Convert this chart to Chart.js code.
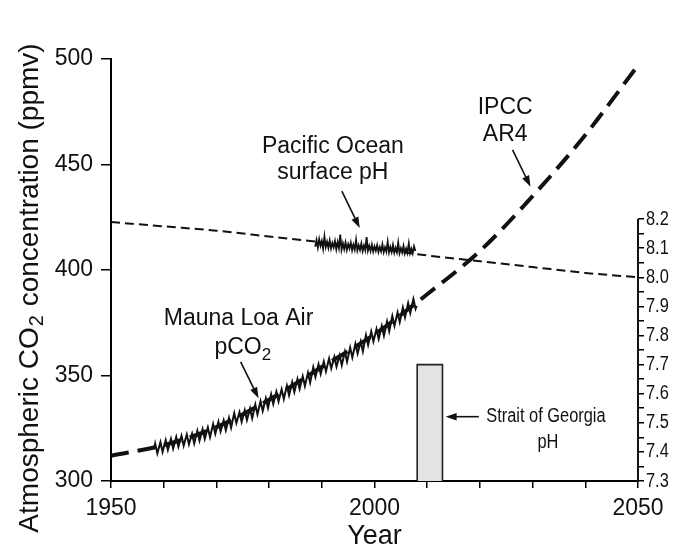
<!DOCTYPE html>
<html>
<head>
<meta charset="utf-8">
<script src="https://cdn.jsdelivr.net/npm/chart.js@4.4.1/dist/chart.umd.min.js"></script>
<style>
  html, body { margin: 0; padding: 0; background: #fff; }
  #chart { display: block; }
</style>
</head>
<body>
<canvas id="chart" width="676" height="553"></canvas>
<script>
'use strict';

// ---- values ----
const yearLabels = [1950, 2000, 2050];
const phLabels = [7.3, 7.4, 7.5, 7.6, 7.7, 7.8, 7.9, 8.0, 8.1, 8.2];

// IPCC AR4 projection (ppmv)
const ipccYears = [1950, 1960, 1970, 1980, 1990, 2000, 2010, 2020, 2030, 2040, 2050];
const ipccCO2 = [312, 317, 325.5, 338.5, 354, 369.5, 388.5, 409, 435, 464, 497];

// Mauna Loa air pCO2, spring peak / autumn trough each year
const mlYears = [
    1958.2, 1958.38, 1958.79, 1959.38, 1959.79, 1960.38, 1960.79, 1961.38, 1961.79,
    1962.38, 1962.79, 1963.38, 1963.79, 1964.38, 1964.79, 1965.38, 1965.79,
    1966.38, 1966.79, 1967.38, 1967.79, 1968.38, 1968.79, 1969.38, 1969.79,
    1970.38, 1970.79, 1971.38, 1971.79, 1972.38, 1972.79, 1973.38, 1973.79,
    1974.38, 1974.79, 1975.38, 1975.79, 1976.38, 1976.79, 1977.38, 1977.79,
    1978.38, 1978.79, 1979.38, 1979.79, 1980.38, 1980.79, 1981.38, 1981.79,
    1982.38, 1982.79, 1983.38, 1983.79, 1984.38, 1984.79, 1985.38, 1985.79,
    1986.38, 1986.79, 1987.38, 1987.79, 1988.38, 1988.79, 1989.38, 1989.79,
    1990.38, 1990.79, 1991.38, 1991.79, 1992.38, 1992.79, 1993.38, 1993.79,
    1994.38, 1994.79, 1995.38, 1995.79, 1996.38, 1996.79, 1997.38, 1997.79,
    1998.38, 1998.79, 1999.38, 1999.79, 2000.38, 2000.79, 2001.38, 2001.79,
    2002.38, 2002.79, 2003.38, 2003.79, 2004.38, 2004.79, 2005.38, 2005.79,
    2006.38, 2006.79, 2007.38, 2007.79, 2008.0
];
const mlCO2 = [
    315.5, 317.7, 313.1, 318.4, 313.8, 319.3, 314.7, 320.0, 315.4,
    320.9, 316.3, 321.4, 316.8, 322.0, 317.4, 322.4, 317.8,
    323.8, 319.2, 324.6, 320.0, 325.4, 320.8, 327.0, 322.4,
    328.1, 323.5, 328.7, 324.1, 329.9, 325.3, 332.1, 327.5,
    332.6, 328.0, 333.5, 328.9, 334.4, 329.8, 336.2, 331.6,
    337.8, 333.2, 339.2, 334.6, 341.1, 336.5, 342.3, 337.7,
    343.5, 338.9, 345.2, 340.6, 346.8, 342.2, 348.3, 343.7,
    349.6, 345.0, 351.3, 346.7, 353.9, 349.3, 355.3, 350.7,
    356.6, 352.0, 358.0, 353.4, 358.8, 354.2, 359.5, 354.9,
    361.2, 356.6, 363.2, 358.6, 365.0, 360.4, 366.1, 361.5,
    369.1, 364.5, 370.8, 366.2, 372.0, 367.4, 373.5, 368.9,
    375.6, 371.0, 378.2, 373.6, 379.9, 375.3, 382.2, 377.6,
    384.3, 379.7, 386.2, 381.6, 383.0
];

// long-term surface pH trend (dashed)
const trendYears = [1950, 1960, 1970, 1980, 1990, 2000, 2010, 2020, 2030, 2040, 2050];
const trendPH = [8.19, 8.175, 8.16, 8.14, 8.12, 8.10, 8.075, 8.055, 8.035, 8.015, 8.0];

// Pacific Ocean surface pH (station record)
const pacYears = [
    1988.75, 1989.0, 1989.25, 1989.5, 1989.75, 1990.0, 1990.25, 1990.5, 1990.75,
    1991.0, 1991.25, 1991.5, 1991.75, 1992.0, 1992.25, 1992.5, 1992.75,
    1993.0, 1993.25, 1993.5, 1993.75, 1994.0, 1994.25, 1994.5, 1994.75,
    1995.0, 1995.25, 1995.5, 1995.75, 1996.0, 1996.25, 1996.5, 1996.75,
    1997.0, 1997.25, 1997.5, 1997.75, 1998.0, 1998.25, 1998.5, 1998.75,
    1999.0, 1999.25, 1999.5, 1999.75, 2000.0, 2000.25, 2000.5, 2000.75,
    2001.0, 2001.25, 2001.5, 2001.75, 2002.0, 2002.25, 2002.5, 2002.75,
    2003.0, 2003.25, 2003.5, 2003.75, 2004.0, 2004.25, 2004.5, 2004.75,
    2005.0, 2005.25, 2005.5, 2005.75, 2006.0, 2006.25, 2006.5, 2006.75,
    2007.0, 2007.25, 2007.5, 2007.75
];
const pacPH = [
    8.105, 8.128, 8.102, 8.131, 8.108, 8.125, 8.098, 8.140, 8.104,
    8.122, 8.101, 8.126, 8.099, 8.118, 8.103, 8.124, 8.096,
    8.121, 8.100, 8.147, 8.095, 8.117, 8.097, 8.120, 8.094,
    8.114, 8.099, 8.119, 8.093, 8.112, 8.095, 8.128, 8.092,
    8.110, 8.094, 8.116, 8.090, 8.109, 8.093, 8.138, 8.091,
    8.108, 8.090, 8.112, 8.088, 8.106, 8.091, 8.110, 8.087,
    8.104, 8.089, 8.113, 8.086, 8.103, 8.088, 8.122, 8.085,
    8.104, 8.087, 8.111, 8.084, 8.101, 8.086, 8.119, 8.083,
    8.100, 8.085, 8.108, 8.082, 8.099, 8.084, 8.116, 8.083,
    8.098, 8.082, 8.106, 8.090
];

// Strait of Georgia pH range (bar)
const sogYears = [2008.1, 2012.9];
const sogPH = [7.3, 7.7];

// ---- look ----
const FONT = "'Liberation Sans', Arial, sans-serif";
const INK = '#111';
const NARROW = 0.82;        // horizontal squeeze for the condensed labels
const PH_AXIS_MAX = 8.75;   // keeps the pH axis on the lower part of the frame

function pairs(xs, ys) {
    return xs.map((x, i) => ({ x: x, y: ys[i] }));
}

const sogBox = [
    { x: sogYears[0], y: sogPH[0] },
    { x: sogYears[0], y: sogPH[1] },
    { x: sogYears[1], y: sogPH[1] },
    { x: sogYears[1], y: sogPH[0] }
];

// annotation text, placed in data units
const notes = [
    { axis: 'y', x: 1992.1, y: 458.4, text: 'Pacific Ocean' },
    { axis: 'y', x: 1992.1, y: 446.1, text: 'surface pH' },
    { axis: 'y', x: 1974.2, y: 377, text: 'Mauna Loa Air' },
    { axis: 'y', x: 1975.0, y: 363, text: 'pCO', sub: '2' },
    { axis: 'y', x: 2024.8, y: 477, text: 'IPCC' },
    { axis: 'y', x: 2024.8, y: 464, text: 'AR4' },
    { axis: 'yPH', x: 2021.2, y: 7.521, text: 'Strait of Georgia', align: 'left', narrow: true },
    { axis: 'yPH', x: 2032.9, y: 7.434, text: 'pH', narrow: true }
];
const arrows = [
    { axis: 'y', from: [1993.8, 437.4], to: [1997.2, 419.9] },
    { axis: 'y', from: [1974.6, 356.5], to: [1978.0, 339.2] },
    { axis: 'y', from: [2026.2, 456.9], to: [2029.6, 439.5] },
    { axis: 'yPH', from: [2019.8, 7.521], to: [2013.5, 7.521] }
];

function drawArrow(ctx, x1, y1, x2, y2) {
    const a = Math.atan2(y2 - y1, x2 - x1);
    const len = 11, half = 3.8;
    ctx.beginPath();
    ctx.moveTo(x1, y1);
    ctx.lineTo(x2 - Math.cos(a) * len * 0.8, y2 - Math.sin(a) * len * 0.8);
    ctx.stroke();
    ctx.beginPath();
    ctx.moveTo(x2, y2);
    ctx.lineTo(x2 - Math.cos(a) * len - Math.sin(a) * half, y2 - Math.sin(a) * len + Math.cos(a) * half);
    ctx.lineTo(x2 - Math.cos(a) * len + Math.sin(a) * half, y2 - Math.sin(a) * len - Math.cos(a) * half);
    ctx.closePath();
    ctx.fill();
}

// condensed text: normal face squeezed sideways
function narrowText(ctx, text, x, y, size) {
    ctx.save();
    ctx.translate(x, y);
    ctx.scale(NARROW, 1);
    ctx.font = size + 'px ' + FONT;
    ctx.textAlign = 'left';
    ctx.fillText(text, 0, 0);
    ctx.restore();
}

function narrowWidth(ctx, text, size) {
    ctx.font = size + 'px ' + FONT;
    return ctx.measureText(text).width * NARROW;
}

const extras = {
    id: 'extras',
    afterDraw(chart) {
        const ctx = chart.ctx;
        const x = chart.scales.x;
        const ph = chart.scales.yPH;
        ctx.save();
        ctx.fillStyle = INK;
        ctx.strokeStyle = INK;

        // pH axis line, only over its labelled range, and its labels
        ctx.lineWidth = 2;
        ctx.beginPath();
        ctx.moveTo(ph.left, ph.getPixelForValue(phLabels[0]) + 1);
        ctx.lineTo(ph.left, ph.getPixelForValue(phLabels[phLabels.length - 1]));
        ctx.stroke();
        ctx.textBaseline = 'middle';
        phLabels.forEach(v => {
            narrowText(ctx, v.toFixed(1), ph.left + 8, ph.getPixelForValue(v), 20);
        });

        // y axis title with subscript
        ctx.save();
        ctx.translate(30, 288);
        ctx.rotate(-Math.PI / 2);
        ctx.textBaseline = 'middle';
        ctx.textAlign = 'left';
        const big = '28px ' + FONT, small = '20px ' + FONT;
        const p1 = 'Atmospheric CO', p2 = '2', p3 = ' concentration (ppmv)';
        ctx.font = big;
        const w1 = ctx.measureText(p1).width, w3 = ctx.measureText(p3).width;
        ctx.font = small;
        const w2 = ctx.measureText(p2).width + 2;
        const cx = -(w1 + w2 + w3) / 2;
        ctx.font = big;
        ctx.fillText(p1, cx, 0);
        ctx.font = small;
        ctx.fillText(p2, cx + w1 + 1, 7);
        ctx.font = big;
        ctx.fillText(p3, cx + w1 + w2, 0);
        ctx.restore();

        // annotation text
        ctx.textBaseline = 'middle';
        ctx.textAlign = 'left';
        notes.forEach(n => {
            const px = x.getPixelForValue(n.x);
            const py = chart.scales[n.axis].getPixelForValue(n.y);
            if (n.narrow) {
                const w = narrowWidth(ctx, n.text, 20);
                narrowText(ctx, n.text, n.align === 'left' ? px : px - w / 2, py, 20);
                return;
            }
            const f = '23px ' + FONT;
            ctx.font = f;
            const w = ctx.measureText(n.text).width;
            let ws = 0;
            if (n.sub) {
                ctx.font = '17px ' + FONT;
                ws = ctx.measureText(n.sub).width;
            }
            const left = n.align === 'left' ? px : px - (w + ws) / 2;
            ctx.font = f;
            ctx.fillText(n.text, left, py);
            if (n.sub) {
                ctx.font = '17px ' + FONT;
                ctx.fillText(n.sub, left + w, py + 7);
            }
        });

        // arrows
        ctx.lineWidth = 1.6;
        arrows.forEach(a => {
            const s = chart.scales[a.axis];
            drawArrow(ctx,
                x.getPixelForValue(a.from[0]), s.getPixelForValue(a.from[1]),
                x.getPixelForValue(a.to[0]), s.getPixelForValue(a.to[1]));
        });
        ctx.restore();
    }
};

new Chart(document.getElementById('chart'), {
    type: 'line',
    data: {
        datasets: [
            {
                label: 'Strait of Georgia pH',
                data: sogBox,
                yAxisID: 'yPH',
                borderColor: '#222',
                borderWidth: 1.6,
                backgroundColor: '#e3e3e3',
                fill: 'origin',
                pointRadius: 0,
                tension: 0
            },
            {
                label: 'Mauna Loa Air pCO2',
                data: pairs(mlYears, mlCO2),
                yAxisID: 'y',
                borderColor: INK,
                borderWidth: 2,
                pointRadius: 0,
                tension: 0
            },
            {
                label: 'IPCC AR4',
                data: pairs(ipccYears, ipccCO2),
                yAxisID: 'y',
                borderColor: INK,
                borderWidth: 4,
                borderDash: [18, 9],
                borderCapStyle: 'butt',
                cubicInterpolationMode: 'monotone',
                pointRadius: 0
            },
            {
                label: 'Pacific Ocean surface pH',
                data: pairs(pacYears, pacPH),
                yAxisID: 'yPH',
                borderColor: INK,
                borderWidth: 1.8,
                pointRadius: 0,
                tension: 0
            },
            {
                label: 'pH trend',
                data: pairs(trendYears, trendPH),
                yAxisID: 'yPH',
                borderColor: INK,
                borderWidth: 2,
                borderDash: [9, 5],
                cubicInterpolationMode: 'monotone',
                pointRadius: 0
            }
        ]
    },
    options: {
        responsive: false,
        animation: false,
        events: [],
        layout: { padding: { top: 59, left: 0, right: 0, bottom: 0 } },
        plugins: {
            legend: { display: false },
            tooltip: { enabled: false }
        },
        scales: {
            x: {
                type: 'linear',
                min: 1950,
                max: 2050,
                border: { color: '#000', width: 2 },
                grid: { drawOnChartArea: false, tickLength: 7, color: '#000', lineWidth: 1.5 },
                ticks: {
                    stepSize: 10,
                    autoSkip: false,
                    maxRotation: 0,
                    padding: 7,
                    color: INK,
                    font: { family: FONT, size: 23 },
                    callback: v => yearLabels.includes(v) ? String(v) : ''
                },
                title: {
                    display: true,
                    text: 'Year',
                    color: INK,
                    font: { family: FONT, size: 27 },
                    padding: 0
                },
                afterFit: s => { s.height = 72; }
            },
            y: {
                position: 'left',
                min: 300,
                max: 500,
                border: { color: '#000', width: 2 },
                grid: { drawOnChartArea: false, tickLength: 10, color: '#000', lineWidth: 1.5 },
                ticks: {
                    stepSize: 50,
                    padding: 8,
                    color: INK,
                    font: { family: FONT, size: 23 }
                },
                afterFit: s => { s.width = 111; }
            },
            yPH: {
                position: 'right',
                min: 7.3,
                max: PH_AXIS_MAX,
                border: { display: false },
                grid: { drawOnChartArea: false, tickLength: 6, color: '#000', lineWidth: 1.5 },
                ticks: {
                    stepSize: 0.05,
                    autoSkip: false,
                    padding: 2,
                    // marks only; the condensed labels are drawn in the plugin
                    callback: v => v > phLabels[phLabels.length - 1] + 1e-6 ? null : ''
                },
                afterFit: s => { s.width = 38; }
            }
        }
    },
    plugins: [extras]
});
</script>
</body>
</html>
